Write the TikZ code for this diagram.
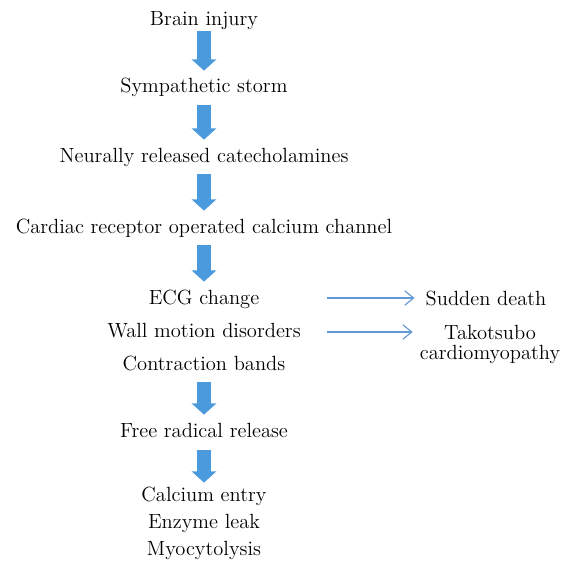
\documentclass[tikz,border=0pt]{standalone}
\usetikzlibrary{arrows.meta}
\definecolor{blockblue}{RGB}{76,154,222}
\definecolor{lineblue}{RGB}{98,152,212}
\begin{document}
\begin{tikzpicture}[
	stage/.style={font=\fontsize{14.6}{17}\selectfont, inner sep=0pt, text height=10pt, text depth=3pt, anchor=base},
	twoline/.style={font=\fontsize{14.6}{14.2}\selectfont, inner sep=0pt, align=center, anchor=north},
	blockarr/.style={blockblue, line width=0.33cm, -{Triangle[width=0.6cm,length=0.28cm]}, shorten <=0.2cm, shorten >=0.2cm},
	thinarr/.style={lineblue, line width=0.8pt, -{Straight Barb[length=0.22cm,width=0.36cm]}}
	]
				\useasboundingbox (0,0) rectangle (14.45,-14.375);
				\node[stage] (brain) at (5.1,-0.625) {Brain injury};
				\node[stage] (storm) at (5.1,-2.325) {Sympathetic storm};
				\node[stage] (neural) at (5.1,-4.05) {Neurally released catecholamines};
				\node[stage] (cardiac) at (5.1,-5.825) {Cardiac receptor operated calcium channel};
				\node[stage] (ecg) at (5.1,-7.6) {ECG change};
				\node[stage] (wall) at (5.1,-8.425) {Wall motion disorders};
				\node[stage] (bands) at (5.1,-9.25) {Contraction bands};
				\node[stage] (radical) at (5.1,-10.925) {Free radical release};
				\node[stage] (calcium) at (5.1,-12.525) {Calcium entry};
				\node[stage] (enzyme) at (5.1,-13.2) {Enzyme leak};
				\node[stage] (myocyt) at (5.1,-13.875) {Myocytolysis};
				\node[stage] (sudden) at (12.15,-7.625) {Sudden death};
				\node[twoline] (tako) at (12.25,-8.125) {Takotsubo\\cardiomyopathy};
				\draw[blockarr, shorten <=0.05cm] (brain.south) -- (storm.north);
				\draw[blockarr] (storm.south) -- (neural.north);
				\draw[blockarr] (neural.south) -- (cardiac.north);
				\draw[blockarr] (cardiac.south) -- (ecg.north);
				\draw[blockarr] (bands.south) -- (radical.north);
				\draw[blockarr, shorten >=0.1cm] (radical.south) -- (calcium.north);
				\coordinate (ecgout) at (8.175,-7.45);
				\coordinate (wallout) at (8.175,-8.3);
				\draw[thinarr, shorten >=0.275cm] (ecgout) -- (ecgout -| sudden.west);
				\draw[thinarr, shorten >=0.175cm] (wallout) -- (wallout -| tako.west);
			\end{tikzpicture}
\end{document}
